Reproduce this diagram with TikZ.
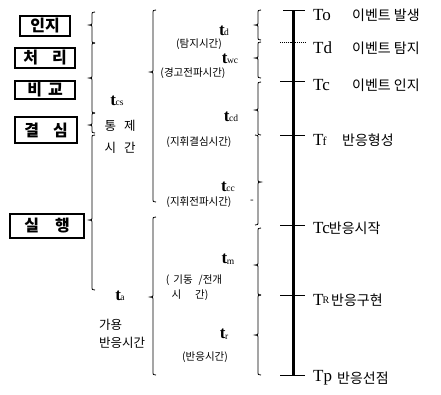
\documentclass[tikz,border=0pt]{standalone}
\usepackage{fontspec}
\setmainfont{Liberation Serif}
\newfontfamily\kr{Noto Sans CJK KR}
\newcommand{\brc}[5]{\draw[brace line] ({#1+(#5)},#2) .. controls (#1,#2) .. (#1,#2+4) -- (#1,#3-4) .. controls (#1,#3) .. ({#1-(#5)},#3) .. controls (#1,#3) .. (#1,#3+4) -- (#1,#4-4) .. controls (#1,#4) .. ({#1+(#5)},#4);}
\newcommand{\tsub}[1]{{\bfseries\fontsize{17}{17}\selectfont t}\kern-0.5pt\raisebox{-0.5pt}{\fontsize{9.5}{9.5}\selectfont #1}}
\begin{document}
\begin{tikzpicture}[x=1pt,y=-1pt,
  lbl/.style={font=\kr\fontsize{14}{14}\selectfont, inner sep=0, anchor=west},
  tl/.style={font=\fontsize{17}{17}\selectfont, inner sep=0, anchor=west},
  small/.style={font=\kr\fontsize{10.5}{12}\selectfont, inner sep=0},
  mid/.style={font=\kr\fontsize{12.5}{14}\selectfont, inner sep=0},
  tt/.style={inner sep=0},
  box/.style={draw, line width=1.2pt, font=\kr\bfseries\fontsize{16}{16}\selectfont, inner sep=0},
  brace line/.style={line width=0.8pt},
  tick/.style={line width=0.9pt},
  axis/.style={line width=3pt}]
\useasboundingbox (0,0) rectangle (441,394);
% boxes
\node[box, minimum width=50pt, minimum height=20pt] (b1) at (45,26) {인지};
\node[box, minimum width=60pt, minimum height=20pt] (b2) at (45,58) {처\hspace{14pt}리};
\node[box, minimum width=60pt, minimum height=18pt] (b3) at (45,90) {비\hspace{6pt}교};
\node[box, minimum width=62pt, minimum height=26pt] (b4) at (46,130) {결\hspace{14pt}심};
\node[box, minimum width=74pt, minimum height=24pt] (b5) at (47,226) {실\hspace{16pt}행};
% left braces
\brc{92}{12}{25}{43}{3}
\brc{92}{43}{78}{113}{3}
\brc{92}{113}{125}{133}{3}
\brc{92}{135}{220}{290}{3}
% middle braces
\brc{153}{10}{72}{202}{3}
\brc{153}{217}{297}{375}{3}
% right braces
\brc{258}{10}{25}{40}{3}
\brc{258}{42}{58}{78}{3}
\brc{258}{82}{110}{135}{3}
\brc{258}{135}{182}{225}{-3}
\brc{258}{228}{265}{295}{3}
\brc{258}{295}{335}{375}{3}
% left column texts
\node[tt] (tcs) at (117,101) {\tsub{cs}};
\node[mid] (tj) at (120,126) {통\hspace{8pt}제};
\node[mid] (sg) at (120,148) {시\hspace{8pt}간};
\node[tt] (ta) at (120,296) {\tsub{a}};
\node[mid, anchor=west] (gy) at (99,325) {가용};
\node[mid, anchor=west] (bs) at (99,343) {반응시간};
% middle column texts
\node[tt] (td) at (224,31) {\tsub{d}};
\node[small] (tdl) at (199,44) {(탐지시간)};
\node[tt] (twc) at (230,59) {\tsub{wc}};
\node[small] (twcl) at (193,73) {(경고전파시간)};
\node[tt] (tcd) at (231,117) {\tsub{cd}};
\node[small] (tcdl) at (199,142) {(지휘결심시간)};
\node[tt] (tcc) at (228,187) {\tsub{cc}};
\node[small] (tccl) at (199,202) {(지휘전파시간)};
\node[small] (dash) at (252,202) {-};
\node[tt] (tm) at (228,259) {\tsub{m}};
\node[small] (tml1) at (194,280) {(\hspace{4pt}기동\hspace{6pt}/전개};
\node[small] (tml2) at (190,295) {시\hspace{14pt}간)};
\node[tt] (tr) at (224,334) {\tsub{r}};
\node[small] (trl) at (205,357) {(반응시간)};
% timeline
\coordinate (top) at (293,10);
\coordinate (bot) at (293,376);
\draw[axis] (top) -- (bot);
\foreach \n/\y/\xl in {o/10/283, d/42/280, c/81/280, f/135/280, s/225/280, r/295/280, p/375/280} {
  \coordinate (L\n) at (\xl,\y);
  \coordinate (R\n) at (305,\y);
}
\draw[tick] (Lo) -- (Ro);
\draw[tick, densely dotted] (Ld) -- (Rd);
\draw[tick] (Lc) -- (Rc);
\draw[tick] (Lf) -- (Rf);
\draw[tick] (Ls) -- (Rs);
\draw[tick] (Lr) -- (Rr);
\draw[tick] (Lp) -- (Rp);
% right labels
\node[tl] (To) at (313,15) {To};
\node[lbl] (Tol) at (352,15) {이벤트 발생};
\node[tl] (Td) at (313,48) {Td};
\node[lbl] (Tdl) at (352,48) {이벤트 탐지};
\node[tl] (Tc) at (313,85) {Tc};
\node[lbl] (Tcl) at (352,85) {이벤트 인지};
\node[tl] (Tf) at (313,140) {T\kern-1pt{\fontsize{12}{12}\selectfont f}};
\node[lbl] (Tfl) at (342,140) {반응형성};
\node[tl] (Tcs) at (313,228) {Tc\kern-1pt{\kr\fontsize{14}{14}\selectfont 반응시작}};
\node[tl] (TR) at (313,300) {T\kern-1pt\raisebox{2pt}{\fontsize{10}{10}\selectfont R}};
\node[lbl] (TRl) at (331,300) {반응구현};
\node[tl] (Tp) at (313,378) {Tp};
\node[lbl] (Tpl) at (337,378) {반응선점};
\end{tikzpicture}
\end{document}
